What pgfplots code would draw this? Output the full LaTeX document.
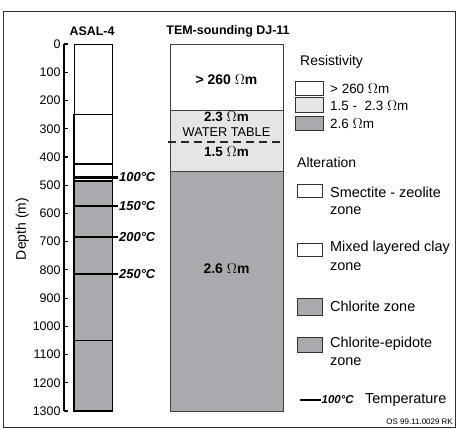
\documentclass[border=0pt]{standalone}
\usepackage{pgfplots}
\pgfplotsset{compat=1.18}
\usepackage{fontspec}
\setmainfont{Liberation Sans}
\definecolor{zonegray}{RGB}{169,170,174}
\definecolor{lightgrey}{RGB}{229,229,229}
\newcommand{\fs}[1]{\fontsize{#1}{#1}\selectfont}

\begin{document}
\begin{tikzpicture}
\begin{axis}[
  scale only axis, width=391bp, height=367bp,
  xmin=0, xmax=391, ymin=0, ymax=1300, y dir=reverse,
  axis x line=none, axis y line*=left,
  ytick={0,100,...,1300}, tick align=inside, major tick length=4bp,
  every tick/.style={black, line width=1.2bp},
  axis line style={line width=1.5bp},
  yticklabel style={font=\fs{12.5}},
  /pgf/number format/1000 sep={}, /pgf/number format/assume math mode=true,
  ylabel={Depth (m)},
  ylabel style={at={(axis description cs:-0.107,0.496)}, anchor=center, font=\fs{14}},
  clip=false,
]
% ASAL-4 column
\addplot[draw=black, line width=0.8bp, fill=white] coordinates {(10,0)(48.7,0)(48.7,250)(10,250)} --cycle;
\addplot[draw=black, line width=1.5bp, fill=white] coordinates {(10,250)(48.7,250)(48.7,485)(10,485)} --cycle;
\addplot[draw=black, line width=1.5bp, fill=zonegray] coordinates {(10,485)(48.7,485)(48.7,1300)(10,1300)} --cycle;
\addplot[line width=1.5bp] coordinates {(10,425)(48.7,425)};
\addplot[line width=1.5bp] coordinates {(10,1050)(48.7,1050)};
% temperatures
\addplot[line width=2.5bp] coordinates {(10,472)(54,472)};
\addplot[line width=2.5bp] coordinates {(10,574)(54,574)};
\addplot[line width=2.5bp] coordinates {(10,684)(54,684)};
\addplot[line width=2.5bp] coordinates {(10,815)(54,815)};
\node[anchor=west, font=\fs{13}\bfseries\itshape, inner sep=1bp] at (axis cs:54,472) {100°C};
\node[anchor=west, font=\fs{13}\bfseries\itshape, inner sep=1bp] at (axis cs:54,574) {150°C};
\node[anchor=west, font=\fs{13}\bfseries\itshape, inner sep=1bp] at (axis cs:54,684) {200°C};
\node[anchor=west, font=\fs{13}\bfseries\itshape, inner sep=1bp] at (axis cs:54,815) {250°C};
% TEM column
\addplot[draw=black!75, line width=1bp, fill=white] coordinates {(106,0)(219,0)(219,236)(106,236)} --cycle;
\addplot[draw=black!75, line width=1bp, fill=lightgrey] coordinates {(106,236)(219,236)(219,452)(106,452)} --cycle;
\addplot[draw=black!75, line width=1bp, fill=zonegray] coordinates {(106,452)(219,452)(219,1300)(106,1300)} --cycle;
\addplot[line width=2bp, black!85, dash pattern=on 8bp off 5bp] coordinates {(104,346)(219,346)};
\node[font=\fs{14}\bfseries] at (axis cs:162.5,127) {> 260 $\Omega$m};
\node[font=\fs{13.5}\bfseries] at (axis cs:162.5,258) {2.3 $\Omega$m};
\node[font=\fs{12.8}] at (axis cs:162.5,311) {WATER TABLE};
\node[font=\fs{13.5}\bfseries] at (axis cs:162.5,380) {1.5 $\Omega$m};
\node[font=\fs{14}\bfseries] at (axis cs:162.5,794) {2.6 $\Omega$m};
% titles
\node[font=\fs{12.5}\bfseries] at (axis cs:28,-46) {ASAL-4};
\node[font=\fs{12.5}\bfseries] at (axis cs:164,-46) {TEM-sounding DJ-11};
% legend: resistivity
\node[anchor=west, font=\fs{14}, inner sep=0pt] at (axis cs:236,64) {Resistivity};
\addplot[draw=black!80, line width=1bp, fill=white] coordinates {(231,131)(259,131)(259,184)(231,184)} --cycle;
\addplot[draw=black!80, line width=1bp, fill=lightgrey] coordinates {(231,191)(259,191)(259,244)(231,244)} --cycle;
\addplot[draw=black!80, line width=1bp, fill=zonegray] coordinates {(231,255)(259,255)(259,308)(231,308)} --cycle;
\node[anchor=west, font=\fs{13.5}, inner sep=0pt] at (axis cs:266,159) {> 260 $\Omega$m};
\node[anchor=west, font=\fs{13.5}, inner sep=0pt] at (axis cs:266,220) {1.5 -\ \ 2.3 $\Omega$m};
\node[anchor=west, font=\fs{13.5}, inner sep=0pt] at (axis cs:266,283) {2.6 $\Omega$m};
% legend: alteration
\node[anchor=west, font=\fs{14}, inner sep=0pt] at (axis cs:233,421) {Alteration};
\addplot[draw=black!80, line width=1bp, fill=white] coordinates {(233,499)(258,499)(258,545)(233,545)} --cycle;
\addplot[draw=black!80, line width=1bp, fill=white] coordinates {(233,705)(258,705)(258,754)(233,754)} --cycle;
\addplot[draw=black!80, line width=1bp, fill=zonegray] coordinates {(233,900)(258,900)(258,960)(233,960)} --cycle;
\addplot[draw=black!80, line width=1bp, fill=zonegray] coordinates {(233,1038)(258,1038)(258,1091)(233,1091)} --cycle;
\node[anchor=west, font=\fs{14.5}, inner sep=0pt] at (axis cs:266,524) {Smectite - zeolite};
\node[anchor=west, font=\fs{14.5}, inner sep=0pt] at (axis cs:266,590) {zone};
\node[anchor=west, font=\fs{14.5}, inner sep=0pt] at (axis cs:266,723) {Mixed layered clay};
\node[anchor=west, font=\fs{14.5}, inner sep=0pt] at (axis cs:266,790) {zone};
\node[anchor=west, font=\fs{14.5}, inner sep=0pt] at (axis cs:266,928) {Chlorite zone};
\node[anchor=west, font=\fs{14.5}, inner sep=0pt] at (axis cs:266,1063) {Chlorite-epidote};
\node[anchor=west, font=\fs{14.5}, inner sep=0pt] at (axis cs:266,1126) {zone};
\addplot[line width=2.5bp] coordinates {(236,1261)(257,1261)};
\node[anchor=west, font=\fs{11.5}\bfseries\itshape, inner sep=0.5bp] at (axis cs:257,1261) {100°C};
\node[anchor=west, font=\fs{14.5}, inner sep=0pt] at (axis cs:301,1261) {Temperature};
\node[anchor=east, font=\fs{8}, inner sep=0pt] at (axis cs:389,1338) {OS 99.11.0029 RK};
% frame and page extent
\draw[line width=1bp, black!80] (axis cs:-60,-117) rectangle (axis cs:391,1360);
\coordinate (bl) at (axis cs:-64,1364);
\coordinate (tr) at (axis cs:395,-156);
\end{axis}
\pgfresetboundingbox
\path (bl) rectangle (tr);
\end{tikzpicture}
\end{document}
